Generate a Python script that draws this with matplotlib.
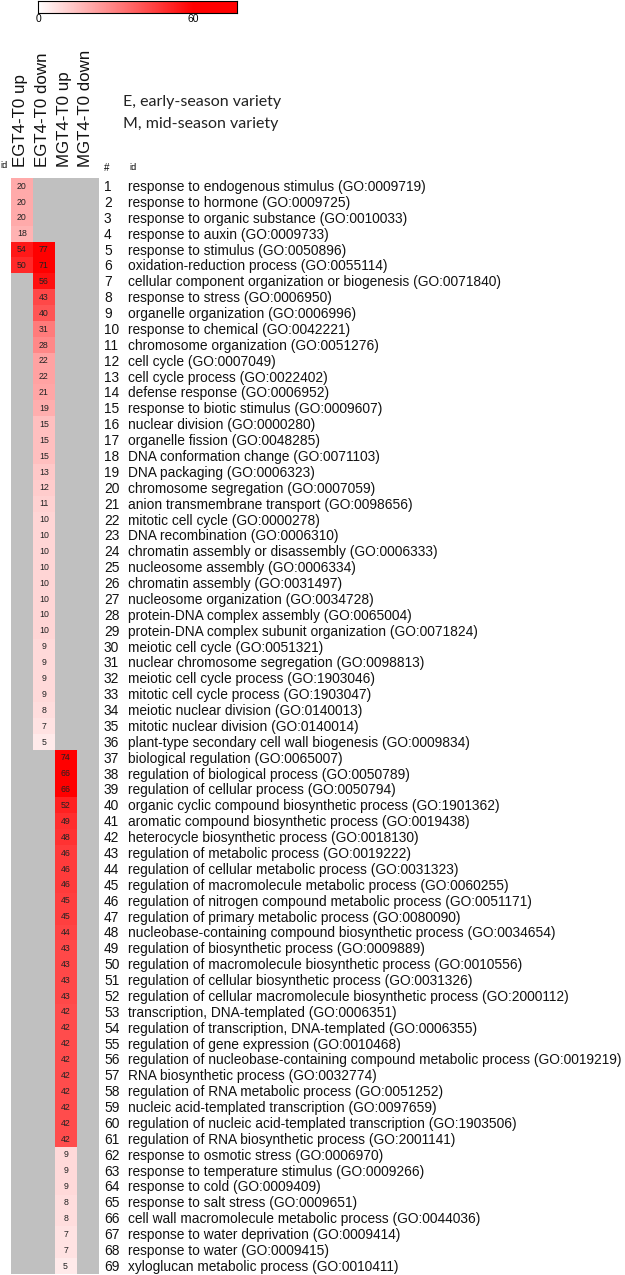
import numpy as np
import matplotlib
matplotlib.use("Agg")
import matplotlib.pyplot as plt
from matplotlib.colors import LinearSegmentedColormap, Normalize
from matplotlib import transforms

plt.rcParams['font.family'] = ['Liberation Sans', 'DejaVu Sans']

columns = ["EGT4-T0 up", "EGT4-T0 down", "MGT4-T0 up", "MGT4-T0 down"]

go_terms = [
    "response to endogenous stimulus (GO:0009719)",
    "response to hormone (GO:0009725)",
    "response to organic substance (GO:0010033)",
    "response to auxin (GO:0009733)",
    "response to stimulus (GO:0050896)",
    "oxidation-reduction process (GO:0055114)",
    "cellular component organization or biogenesis (GO:0071840)",
    "response to stress (GO:0006950)",
    "organelle organization (GO:0006996)",
    "response to chemical (GO:0042221)",
    "chromosome organization (GO:0051276)",
    "cell cycle (GO:0007049)",
    "cell cycle process (GO:0022402)",
    "defense response (GO:0006952)",
    "response to biotic stimulus (GO:0009607)",
    "nuclear division (GO:0000280)",
    "organelle fission (GO:0048285)",
    "DNA conformation change (GO:0071103)",
    "DNA packaging (GO:0006323)",
    "chromosome segregation (GO:0007059)",
    "anion transmembrane transport (GO:0098656)",
    "mitotic cell cycle (GO:0000278)",
    "DNA recombination (GO:0006310)",
    "chromatin assembly or disassembly (GO:0006333)",
    "nucleosome assembly (GO:0006334)",
    "chromatin assembly (GO:0031497)",
    "nucleosome organization (GO:0034728)",
    "protein-DNA complex assembly (GO:0065004)",
    "protein-DNA complex subunit organization (GO:0071824)",
    "meiotic cell cycle (GO:0051321)",
    "nuclear chromosome segregation (GO:0098813)",
    "meiotic cell cycle process (GO:1903046)",
    "mitotic cell cycle process (GO:1903047)",
    "meiotic nuclear division (GO:0140013)",
    "mitotic nuclear division (GO:0140014)",
    "plant-type secondary cell wall biogenesis (GO:0009834)",
    "biological regulation (GO:0065007)",
    "regulation of biological process (GO:0050789)",
    "regulation of cellular process (GO:0050794)",
    "organic cyclic compound biosynthetic process (GO:1901362)",
    "aromatic compound biosynthetic process (GO:0019438)",
    "heterocycle biosynthetic process (GO:0018130)",
    "regulation of metabolic process (GO:0019222)",
    "regulation of cellular metabolic process (GO:0031323)",
    "regulation of macromolecule metabolic process (GO:0060255)",
    "regulation of nitrogen compound metabolic process (GO:0051171)",
    "regulation of primary metabolic process (GO:0080090)",
    "nucleobase-containing compound biosynthetic process (GO:0034654)",
    "regulation of biosynthetic process (GO:0009889)",
    "regulation of macromolecule biosynthetic process (GO:0010556)",
    "regulation of cellular biosynthetic process (GO:0031326)",
    "regulation of cellular macromolecule biosynthetic process (GO:2000112)",
    "transcription, DNA-templated (GO:0006351)",
    "regulation of transcription, DNA-templated (GO:0006355)",
    "regulation of gene expression (GO:0010468)",
    "regulation of nucleobase-containing compound metabolic process (GO:0019219)",
    "RNA biosynthetic process (GO:0032774)",
    "regulation of RNA metabolic process (GO:0051252)",
    "nucleic acid-templated transcription (GO:0097659)",
    "regulation of nucleic acid-templated transcription (GO:1903506)",
    "regulation of RNA biosynthetic process (GO:2001141)",
    "response to osmotic stress (GO:0006970)",
    "response to temperature stimulus (GO:0009266)",
    "response to cold (GO:0009409)",
    "response to salt stress (GO:0009651)",
    "cell wall macromolecule metabolic process (GO:0044036)",
    "response to water deprivation (GO:0009414)",
    "response to water (GO:0009415)",
    "xyloglucan metabolic process (GO:0010411)",
]

# Counts per comparison; terms not enriched in a comparison are left empty
egt4_up_terms = list(range(1, 7))
egt4_up = [20, 20, 20, 18, 54, 50]
egt4_down_terms = list(range(5, 37))
egt4_down = [77, 71, 56, 43, 40, 31, 28, 22, 22, 21, 19, 15, 15, 15, 13, 12,
             11, 10, 10, 10, 10, 10, 10, 10, 10, 9, 9, 9, 9, 8, 7, 5]
mgt4_up_terms = list(range(37, 70))
mgt4_up = [74, 66, 66, 52, 49, 48, 46, 46, 46, 45, 45, 44, 43, 43, 43, 43,
           42, 42, 42, 42, 42, 42, 42, 42, 42, 9, 9, 9, 8, 8, 7, 7, 5]
mgt4_down_terms = []
mgt4_down = []

n = len(go_terms)
mat = np.full((n, len(columns)), np.nan)
for j, (terms, vals) in enumerate([(egt4_up_terms, egt4_up),
                                   (egt4_down_terms, egt4_down),
                                   (mgt4_up_terms, mgt4_up),
                                   (mgt4_down_terms, mgt4_down)]):
    for t, v in zip(terms, vals):
        mat[t - 1, j] = v

W, H = 625, 1275
fig = plt.figure(figsize=(W / 100, H / 100), dpi=100)

cmap = LinearSegmentedColormap.from_list("wr", ["#ffffff", "#ff0000"])
cmap.set_bad("#c0c0c0")
norm = Normalize(vmin=0, vmax=60, clip=True)

x0, x1 = 11, 98.3
y0, y1 = 178.3, 1274.0
ax = fig.add_axes([x0 / W, 1 - y1 / H, (x1 - x0) / W, (y1 - y0) / H])
ax.imshow(np.ma.masked_invalid(mat), cmap=cmap, norm=norm, aspect="auto",
          interpolation="nearest", extent=[0, 4, n, 0])
ax.set_xlim(0, 4)
ax.set_ylim(n, 0)
ax.axis("off")

for i in range(n):
    for j in range(len(columns)):
        v = mat[i, j]
        if not np.isnan(v):
            ax.text(j + 0.5, i + 0.5, f"{int(v)}", ha="center", va="center",
                    fontsize=6.3, color="#222222")

tr = transforms.blended_transform_factory(fig.transFigure, ax.transData)
for i, term in enumerate(go_terms):
    ax.text(104 / W, i + 0.55, str(i + 1), transform=tr, ha="left",
            va="center", fontsize=9.9, color="#111111")
    ax.text(128 / W, i + 0.55, term, transform=tr, ha="left", va="center",
            fontsize=9.9, color="#111111")

# header labels
for j, c in enumerate(columns):
    ax.text(j + 0.43, -0.7, c, rotation=90, ha="center", va="bottom",
            fontsize=12.2, color="#111111")
fig.text(0 / W, 1 - 166 / H, "id", ha="left", va="center", fontsize=6.5)
fig.text(104 / W, 1 - 168 / H, "#", ha="left", va="center", fontsize=7)
fig.text(129 / W, 1 - 168 / H, "id", ha="left", va="center", fontsize=6.5)
fig.text(123 / W, 1 - 102 / H, "E, early-season variety", ha="left",
         va="center", fontsize=11.5, family=["Lato", "DejaVu Sans"], color="#222222")
fig.text(123 / W, 1 - 124 / H, "M, mid-season variety", ha="left",
         va="center", fontsize=11.5, family=["Lato", "DejaVu Sans"], color="#222222")

# colour bar
cax = fig.add_axes([38 / W, 1 - 13 / H, 199 / W, 12 / H])
grad = np.linspace(0, 77, 256)[None, :]
cax.imshow(grad, cmap=cmap, norm=norm, aspect="auto", extent=[0, 77, 0, 1])
cax.set_xlim(0, 77)
cax.set_yticks([])
cax.set_xticks([0, 60])
cax.tick_params(axis="x", length=0, labelsize=7.5, pad=1)
for s in cax.spines.values():
    s.set_linewidth(0.8)

fig.savefig("out.png", dpi=100)
